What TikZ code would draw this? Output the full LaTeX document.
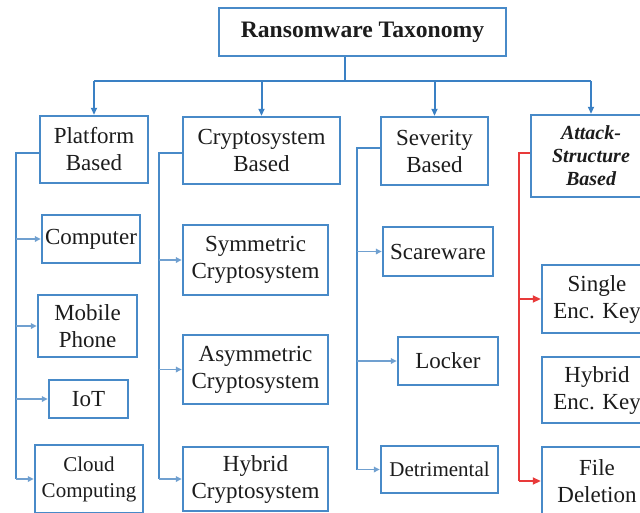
\documentclass[tikz,border=0pt]{standalone}
\usepackage{fontspec}
\setmainfont{Liberation Serif}
\usetikzlibrary{arrows.meta}
\definecolor{boxblue}{RGB}{72,138,200}
\definecolor{linkblue}{RGB}{58,128,196}
\definecolor{leafblue}{RGB}{112,160,208}
\definecolor{alertred}{RGB}{232,58,58}
\definecolor{ink}{RGB}{28,28,28}
\tikzset{
  box/.style={draw=boxblue, line width=2.4pt, fill=white, inner sep=0pt,
    align=center, text=ink, font=\fontsize{23}{27}\selectfont},
  smallbox/.style={box, font=\fontsize{21}{26}\selectfont},
  titlebox/.style={box, font=\fontsize{23.6}{27}\selectfont\bfseries},
  italbox/.style={box, font=\fontsize{20}{23}\selectfont\bfseries\itshape},
  link/.style={draw=linkblue, line width=2pt,
    -{Triangle[length=7pt,width=6pt]}},
  trunk/.style={draw=linkblue, line width=2pt},
  rail/.style={draw=boxblue, line width=2pt},
  leaf/.style={draw=leafblue, line width=1.6pt,
    -{Triangle[length=6pt,width=5.5pt]}},
  redrail/.style={draw=alertred, line width=2pt},
  redleaf/.style={draw=alertred, line width=1.8pt,
    -{Triangle[length=8pt,width=7pt]}},
}
\begin{document}
\begin{tikzpicture}[x=1pt,y=-1pt]
\useasboundingbox (0,0) rectangle (640,512);
\clip (0,0) rectangle (640,512);

% root
\node[titlebox, minimum width=287, minimum height=48] (title) at (362.5,32) {Ransomware Taxonomy};

% first level
\node[box, minimum width=108, minimum height=67] (plat) at (94,149.5) {Platform\\Based};
\node[box, minimum width=157, minimum height=67] (crypt) at (261.5,150.5) {Cryptosystem\\Based};
\node[box, minimum width=107, minimum height=68] (sev) at (434.5,151) {Severity\\Based};
\node[italbox, minimum width=120, minimum height=82] (atk) at (591,156) {Attack-\\Structure\\Based};

% bus from the root to the four categories
\coordinate (bus) at (345,81);
\draw[trunk] (title.south -| bus) -- (bus);
\draw[trunk] (bus) -- (bus -| plat.north) -- (bus -| atk.north);
\draw[link] (bus -| plat.north) -- (plat.north);
\draw[link] (bus -| crypt.north) -- (crypt.north);
\draw[link] (bus -| sev.north) -- (sev.north);
\draw[link] (bus -| atk.north) -- (atk.north);

% platform based
\node[box, minimum width=98, minimum height=48] (comp) at (91,239) {Computer};
\node[box, minimum width=99, minimum height=62] (mob) at (87.5,326) {Mobile\\Phone};
\node[box, minimum width=79, minimum height=38] (iot) at (88.5,399) {IoT};
\node[smallbox, minimum width=108, minimum height=68] (cloud) at (89,479) {Cloud\\Computing};
\coordinate (pr) at (16,0);
\draw[rail] ([yshift=-3pt]plat.west) -- ([yshift=-3pt]plat.west -| pr) -- (cloud.west -| pr);
\draw[leaf] (comp.west -| pr) -- (comp.west);
\draw[leaf] (mob.west -| pr) -- (mob.west);
\draw[leaf] (iot.west -| pr) -- (iot.west);
\draw[leaf] (cloud.west -| pr) -- (cloud.west);

% cryptosystem based
\node[box, minimum width=145, minimum height=70] (sym) at (255.5,260) {Symmetric\\Cryptosystem};
\node[box, minimum width=145, minimum height=69] (asym) at (255.5,369.5) {Asymmetric\\Cryptosystem};
\node[box, minimum width=145, minimum height=64] (hcry) at (255.5,479) {Hybrid\\Cryptosystem};
\coordinate (cr) at (159,0);
\draw[rail] ([yshift=-2pt]crypt.west) -- ([yshift=-2pt]crypt.west -| cr) -- (hcry.west -| cr);
\draw[leaf] (sym.west -| cr) -- (sym.west);
\draw[leaf] (asym.west -| cr) -- (asym.west);
\draw[leaf] (hcry.west -| cr) -- (hcry.west);

% severity based
\node[box, minimum width=110, minimum height=49] (scare) at (438,251.5) {Scareware};
\node[box, minimum width=100, minimum height=48] (lock) at (448,361) {Locker};
\node[smallbox, minimum width=117, minimum height=47] (detr) at (439.5,469.5) {Detrimental};
\coordinate (sr) at (357,0);
\draw[rail] ([yshift=3pt]sev.west) -- ([yshift=3pt]sev.west -| sr) -- (detr.west -| sr);
\draw[leaf] (scare.west -| sr) -- (scare.west);
\draw[leaf] (lock.west -| sr) -- (lock.west);
\draw[leaf] (detr.west -| sr) -- (detr.west);

% attack-structure based
\node[box, minimum width=110, minimum height=68] (single) at (597,299) {Single\\Enc. Key};
\node[box, minimum width=110, minimum height=66] (henc) at (597,390) {Hybrid\\Enc. Key};
\node[box, minimum width=110, minimum height=68] (fdel) at (597,481) {File\\Deletion};
\coordinate (ar) at (519,0);
\draw[redrail] ([yshift=3pt]atk.west) -- ([yshift=3pt]atk.west -| ar) -- (fdel.west -| ar);
\draw[redleaf] (single.west -| ar) -- (single.west);
\draw[redleaf] (fdel.west -| ar) -- (fdel.west);
\end{tikzpicture}
\end{document}
